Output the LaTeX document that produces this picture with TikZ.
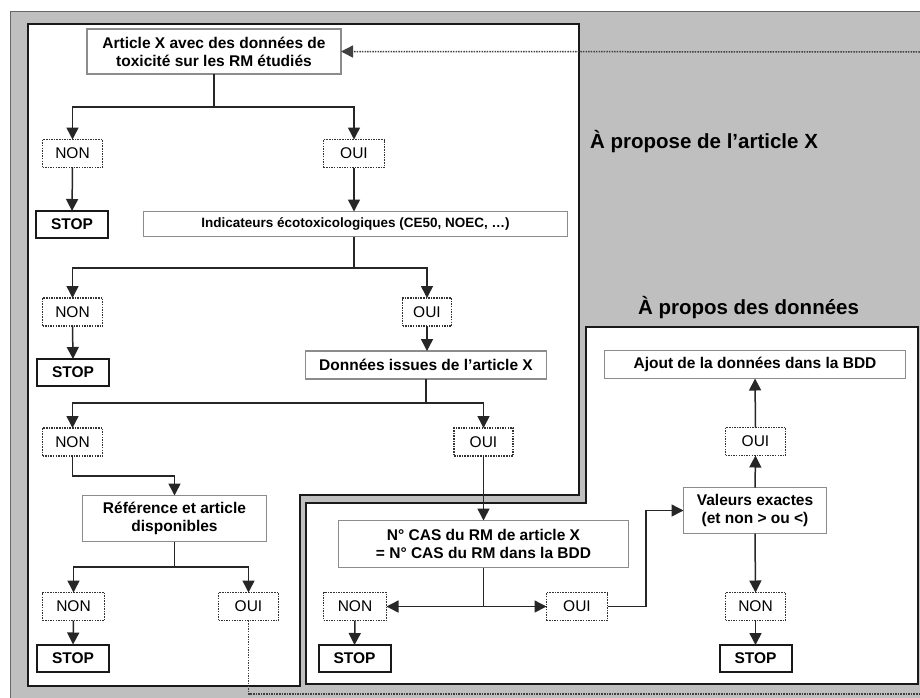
\documentclass[tikz,border=0pt]{standalone}
\usepackage{fontspec}
\setmainfont{Liberation Sans}
\usetikzlibrary{arrows.meta}
\begin{document}
\begin{tikzpicture}[x=1pt,y=-1pt,
  every node/.style={inner sep=0pt, outer sep=0pt},
  bx/.style={draw=black!45, line width=1.1pt, fill=white, align=center, font=\fontsize{15.5}{18}\selectfont\bfseries},
  ch/.style={draw=black!80, line width=1.6pt, dash pattern=on 1.5pt off 1.1pt, fill=white, font=\fontsize{15.5}{18}\selectfont, minimum height=28pt},
  stopbox/.style={draw=black!90, line width=2pt, fill=white, font=\fontsize{15.5}{18}\selectfont\bfseries, minimum width=72pt, minimum height=27pt},
  arr/.style={draw=black!85, line width=1.5pt, -{Triangle[length=12pt,width=12pt]}},
  ln/.style={draw=black!85, line width=1.5pt},
  fb/.style={draw=black!75, line width=1.5pt, dash pattern=on 1.5pt off 1.1pt},
  head/.style={font=\fontsize{20.5}{24}\selectfont\bfseries}
]
\useasboundingbox (0,0) rectangle (920,697);
\fill[white] (0,0) rectangle (920,697);
\filldraw[fill=black!25, draw=black!60, line width=0.8pt] (10,11) rectangle (930,710);
% panels
\filldraw[fill=white, draw=black!90, line width=2pt] (28,24) -- (579,24) -- (579,495) -- (300,495) -- (300,686) -- (28,686) -- cycle;
\filldraw[fill=white, draw=black!90, line width=2pt] (586,327) -- (918,327) -- (918,684) -- (306,684) -- (306,503) -- (586,503) -- cycle;
% headings
\node[head] (h1) at (704,142) {À propose de l’article X};
\node[head] (h2) at (748.5,308) {À propos des données};
% nodes
\node[bx, minimum width=254pt, minimum height=45pt] (A1) at (214,51.5) {Article X avec des données de\\toxicité sur les RM étudiés};
\node[ch, minimum width=60pt] (NON1) at (72.5,153.5) {NON};
\node[ch, minimum width=61pt] (OUI1) at (354,153.5) {OUI};
\node[stopbox] (STOP1) at (72,224.5) {STOP};
\node[bx, minimum width=424pt, minimum height=25pt, font=\fontsize{13.5}{16}\selectfont\bfseries] (IND) at (355.5,224) {Indicateurs écotoxicologiques (CE50, NOEC, …)};
\node[ch, minimum width=60pt] (NON2) at (72.5,312) {NON};
\node[ch, minimum width=49pt] (OUI2) at (427,312) {OUI};
\node[stopbox] (STOP2) at (73,372.5) {STOP};
\node[bx, minimum width=241pt, minimum height=28pt] (DON) at (426,365) {Données issues de l’article X};
\node[ch, minimum width=60pt] (NON3) at (72.5,442) {NON};
\node[ch, minimum width=59pt] (OUI3) at (483.5,442) {OUI};
\node[bx, minimum width=184pt, minimum height=46pt] (REF) at (174.5,518.5) {Référence et article\\disponibles};
\node[ch, minimum width=62pt] (NON4) at (73.5,606.5) {NON};
\node[ch, minimum width=60pt] (OUI4) at (248.5,606.5) {OUI};
\node[stopbox] (STOP4) at (73,658) {STOP};
\node[bx, minimum width=290pt, minimum height=47pt] (CAS) at (483.5,544) {N° CAS du RM de article X\\= N° CAS du RM dans la BDD};
\node[ch, minimum width=63pt] (NON5) at (355,606.5) {NON};
\node[ch, minimum width=61pt] (OUI5) at (577,606.5) {OUI};
\node[stopbox] (STOP5) at (354.5,658.5) {STOP};
\node[bx, minimum width=143pt, minimum height=46pt] (VAL) at (755,510.5) {Valeurs exactes\\(et non > ou <)};
\node[ch, minimum width=60pt] (OUI6) at (755.5,441.5) {OUI};
\node[bx, minimum width=301pt, minimum height=28pt] (AJ) at (755,364.5) {Ajout de la données dans la BDD};
\node[ch, minimum width=60pt] (NON6) at (755.5,606.5) {NON};
\node[stopbox] (STOP6) at (755.5,658.5) {STOP};
% junctions
\coordinate (j1) at (214,107);
\coordinate (j2) at (354,268);
\coordinate (j3) at (426,403);
\coordinate (j4) at (174.5,567);
\coordinate (j5) at (483.5,606.5);
\coordinate (k3) at (72.5,476);
\coordinate (k5) at (646,606.5);
\coordinate (eb) at (925,694);
\coordinate (et) at (925,52);
% connectors
\draw[ln] (A1.south) -- (j1);
\draw[arr] (j1) -| (NON1.north);
\draw[arr] (j1) -| (OUI1.north);
\draw[arr] (NON1.south) -- (STOP1.north);
\draw[arr] (OUI1.south) -- (OUI1.south |- IND.north);
\draw[ln] (IND.south -| j2) -- (j2);
\draw[arr] (j2) -| (NON2.north);
\draw[arr] (j2) -| (OUI2.north);
\draw[arr] (NON2.south) -- (STOP2.north);
\draw[arr] (OUI2.south) -- (OUI2.south |- DON.north);
\draw[ln] (DON.south) -- (j3);
\draw[arr] (j3) -| (NON3.north);
\draw[arr] (j3) -| (OUI3.north);
\draw[arr] (NON3.south) -- (k3) -| (REF.north);
\draw[ln] (REF.south) -- (j4);
\draw[arr] (j4) -| (NON4.north);
\draw[arr] (j4) -| (OUI4.north);
\draw[arr] (NON4.south) -- (STOP4.north);
\draw[arr] (OUI3.south) -- (CAS.north);
\draw[ln] (CAS.south) -- (j5);
\draw[arr] (j5) -- (NON5.east);
\draw[arr] (j5) -- (OUI5.west);
\draw[arr] (NON5.south) -- (STOP5.north);
\draw[arr] (OUI5.east) -- (k5) |- (VAL.west);
\draw[arr] (VAL.north) -- (OUI6.south);
\draw[arr] (OUI6.north) -- (AJ.south);
\draw[arr] (VAL.south) -- (NON6.north);
\draw[arr] (NON6.south) -- (STOP6.north);
% feedback dotted loop
\draw[fb] (OUI4.south) |- (eb);
\draw[fb, -{Triangle[length=12pt,width=12pt]}] (et) -- (A1.east);
\end{tikzpicture}
\end{document}
